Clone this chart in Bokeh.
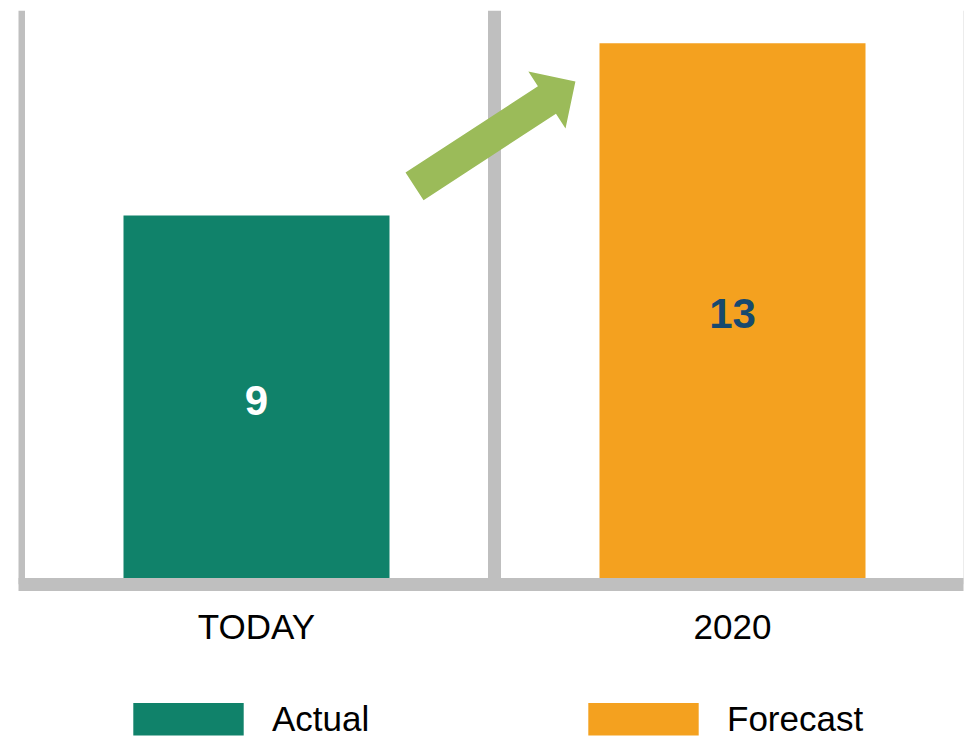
import numpy as np
from bokeh.plotting import figure
from bokeh.layouts import column
from bokeh.models import ColumnDataSource, Span, Legend, LegendItem, FixedTicker
from bokeh.core.properties import value
from bokeh.embed import file_html
from bokeh.resources import INLINE

# ---- data ----
categories = ["TODAY", "2020"]
series_names = ["Actual", "Forecast"]
values = [9, 13.2]
value_labels = ["9", "13"]
bar_colors = ["#10826A", "#F4A11F"]
label_colors = ["#FFFFFF", "#17496E"]

# growth arrow (data coordinates): tail centre -> tip
arrow_start = (0.832, 9.71)
arrow_end = (1.170, 12.27)

FONT = "Liberation Sans"
GRAY = "#BFBFBF"

W, H = 964, 703
LEG_H = 33
left_b, right_b, top_b, bot_b = 18, 1, 10, 119
frame_w = W - left_b - right_b
frame_h = H - top_b - bot_b
px_per_x = 476.0
x_end = frame_w / px_per_x
y_end = 14.0
px_per_y = frame_h / y_end

xs = [0.5 + i for i in range(len(categories))]

p = figure(width=W, height=H, x_range=(0, x_end), y_range=(0, y_end),
           output_backend="svg", toolbar_location=None,
           min_border_left=left_b, min_border_right=right_b,
           min_border_top=top_b, min_border_bottom=bot_b)
p.outline_line_color = None
p.background_fill_color = "white"
p.border_fill_color = "white"
p.yaxis.visible = False
p.xgrid.visible = False
p.ygrid.visible = False

# frame lines
for loc in [0, 1]:
    p.add_layout(Span(location=loc, dimension="height", line_color=GRAY,
                      line_width=13, level="underlay"))
p.add_layout(Span(location=x_end, dimension="height", line_color="#D9D9D9",
                  line_width=1, level="underlay"))

src = ColumnDataSource(dict(x=xs, top=values, color=bar_colors,
                            ly=[v / 2 for v in values], lbl=value_labels,
                            lcolor=label_colors, name=series_names))
bars = p.vbar(x="x", top="top", bottom=0, width=266 / px_per_x, source=src,
              fill_color="color", line_color=None)

p.text(x="x", y="ly", text="lbl", source=src, text_color="lcolor",
       text_align="center", text_baseline="middle",
       text_font=value(FONT), text_font_style="bold", text_font_size="42px")

# arrow polygon built in pixel space from start/end
sx0, sy0 = arrow_start[0] * px_per_x, arrow_start[1] * px_per_y
sx1, sy1 = arrow_end[0] * px_per_x, arrow_end[1] * px_per_y
d = np.array([sx1 - sx0, sy1 - sy0])
L = np.hypot(*d)
d = d / L
n = np.array([-d[1], d[0]])
shaft_w, head_w, head_l = 33.0, 68.0, 34.0
t = np.array([sx0, sy0])
tip = np.array([sx1, sy1])
base = tip - head_l * d
pts = [t + n * shaft_w / 2, base + n * shaft_w / 2, base + n * head_w / 2, tip,
       base - n * head_w / 2, base - n * shaft_w / 2, t - n * shaft_w / 2]
p.patch([q[0] / px_per_x for q in pts], [q[1] / px_per_y for q in pts],
        fill_color="#9BBB59", line_color=None)

# x axis
p.xaxis.ticker = FixedTicker(ticks=xs)
p.xaxis.major_label_overrides = {x: c for x, c in zip(xs, categories)}
p.xaxis.axis_line_color = GRAY
p.xaxis.axis_line_width = 13
p.xaxis.major_tick_line_color = None
p.xaxis.minor_tick_line_color = None
p.xaxis.major_label_text_font = FONT
p.xaxis.major_label_text_font_size = "35px"
p.xaxis.major_label_text_color = "#000000"
p.xaxis.major_label_standoff = 16

# ---- legend strip (separate figure so it is not clipped) ----
p2 = figure(width=W, height=LEG_H, x_range=(0, 1), y_range=(100, 101),
            output_backend="svg", toolbar_location=None,
            min_border_left=0, min_border_right=0, min_border_top=0,
            min_border_bottom=0)
p2.axis.visible = False
p2.grid.visible = False
p2.outline_line_color = None
leg_bars = p2.vbar(x="x", top="top", bottom=0, width=0.5, source=src,
                   fill_color="color", line_color=None)
legend = Legend(items=[LegendItem(label=series_names[i], renderers=[leg_bars], index=i)
                       for i in range(len(series_names))],
                orientation="horizontal", location=(101, -3),
                glyph_width=138, glyph_height=41, label_standoff=15,
                label_width=302, spacing=0, padding=0, margin=0,
                label_text_font=FONT, label_text_font_size="35px",
                label_text_color="#000000", border_line_color=None,
                background_fill_alpha=0)
p2.add_layout(legend)

open("out.html", "w").write(file_html(column(p, p2, spacing=0), INLINE))
